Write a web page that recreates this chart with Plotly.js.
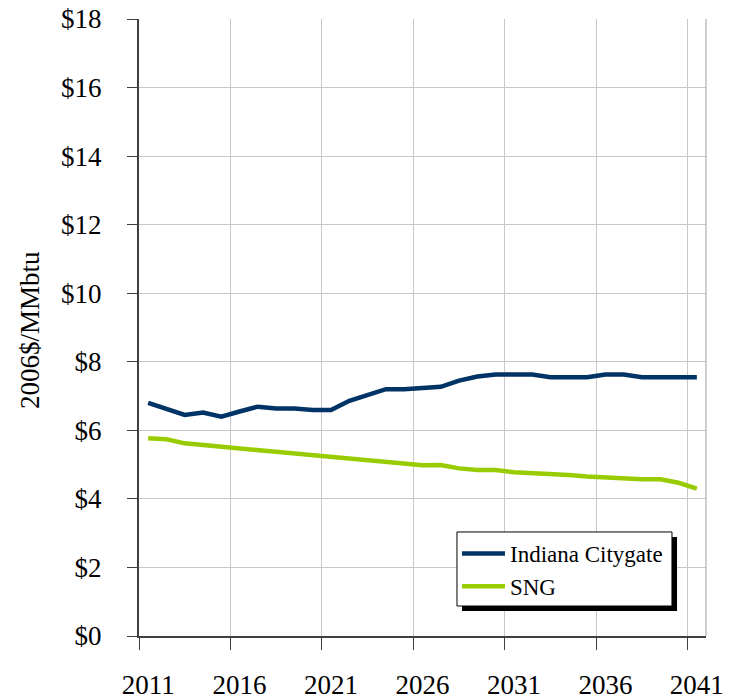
<!DOCTYPE html>
<html>
<head>
<meta charset="utf-8">
<script src="https://cdn.plot.ly/plotly-3.0.1.min.js"></script>
<style>html,body{margin:0;padding:0;background:#fff;}#chart{width:736px;height:700px;}</style>
</head>
<body>
<div id="chart"></div>
<script>
const years = [2011,2012,2013,2014,2015,2016,2017,2018,2019,2020,2021,2022,2023,2024,2025,2026,2027,2028,2029,2030,2031,2032,2033,2034,2035,2036,2037,2038,2039,2040,2041];
const indianaCitygate = [6.80,6.63,6.45,6.52,6.40,6.55,6.69,6.64,6.64,6.59,6.59,6.86,7.03,7.20,7.20,7.23,7.27,7.45,7.57,7.63,7.63,7.63,7.55,7.55,7.55,7.63,7.63,7.55,7.55,7.55,7.55];
const sng = [5.77,5.74,5.62,5.57,5.52,5.45,5.40,5.36,5.31,5.26,5.21,5.16,5.12,5.08,5.02,4.98,4.99,4.89,4.84,4.84,4.78,4.75,4.75,4.70,4.65,4.62,4.57,4.57,4.57,4.47,4.30];
const seriesNames = ["Indiana Citygate","SNG"];
const yTitle = "2006$/MMbtu";

const FONT = "'Liberation Serif', 'Times New Roman', serif";
const traces = [
  {x: years, y: indianaCitygate, name: seriesNames[0], type: 'scatter', mode: 'lines',
   line: {color: '#003366', width: 4.5}},
  {x: years, y: sng, name: seriesNames[1], type: 'scatter', mode: 'lines',
   line: {color: '#99CC00', width: 4.5}}
];

const layout = {
  width: 736, height: 700,
  margin: {l: 139, r: 30, t: 19, b: 64},
  paper_bgcolor: '#ffffff', plot_bgcolor: '#ffffff',
  font: {family: FONT, color: '#000000', size: 27},
  showlegend: true,
  legend: {
    x: 0.5608, y: 0.1686, xanchor: 'left', yanchor: 'top',
    bgcolor: 'rgba(0,0,0,0)', borderwidth: 0, itemwidth: 43,
    font: {family: FONT, size: 23, color: '#000000'}
  },
  xaxis: {
    type: 'category', range: [-0.5, 30.5], tickson: 'boundaries', dtick: 5, tick0: 0,
    tickangle: 0,
    ticks: 'outside', ticklen: 12, tickwidth: 1, tickcolor: '#404040',
    showline: true, linecolor: '#404040', linewidth: 2,
    showgrid: true, gridcolor: '#C8C8C8', gridwidth: 1,
    zeroline: false, ticklabelstandoff: 24,
    tickfont: {family: FONT, size: 27, color: '#000000'}
  },
  yaxis: {
    range: [0, 18], dtick: 2, tick0: 0, tickprefix: '$',
    ticks: 'outside', ticklen: 10, tickwidth: 1, tickcolor: '#404040',
    showline: true, linecolor: '#404040', linewidth: 2,
    showgrid: true, gridcolor: '#C8C8C8', gridwidth: 1,
    zeroline: false, ticklabelstandoff: 20,
    tickfont: {family: FONT, size: 27, color: '#000000'}
  },
  annotations: [
    {text: yTitle, xref: 'paper', yref: 'paper', x: -0.1922, y: 0.496,
     xanchor: 'center', yanchor: 'middle', textangle: -90, showarrow: false,
     font: {family: FONT, size: 27, color: '#000000'}}
  ],
  shapes: [
    {type: 'line', xref: 'paper', yref: 'paper', x0: 1, x1: 1, y0: 0, y1: 1,
     line: {color: '#A0A0A0', width: 1}, layer: 'above'},
    {type: 'rect', xref: 'paper', yref: 'paper', x0: 0.5697, x1: 0.9489, y0: 0.0405, y1: 0.1605,
     fillcolor: '#000000', line: {width: 0}, layer: 'above'},
    {type: 'rect', xref: 'paper', yref: 'paper', x0: 0.5608, x1: 0.9400, y0: 0.0486, y1: 0.1686,
     fillcolor: '#ffffff', line: {color: '#000000', width: 1}, layer: 'above'}
  ]
};

Plotly.newPlot('chart', traces, layout, {displayModeBar: false, staticPlot: true});
</script>
</body>
</html>
